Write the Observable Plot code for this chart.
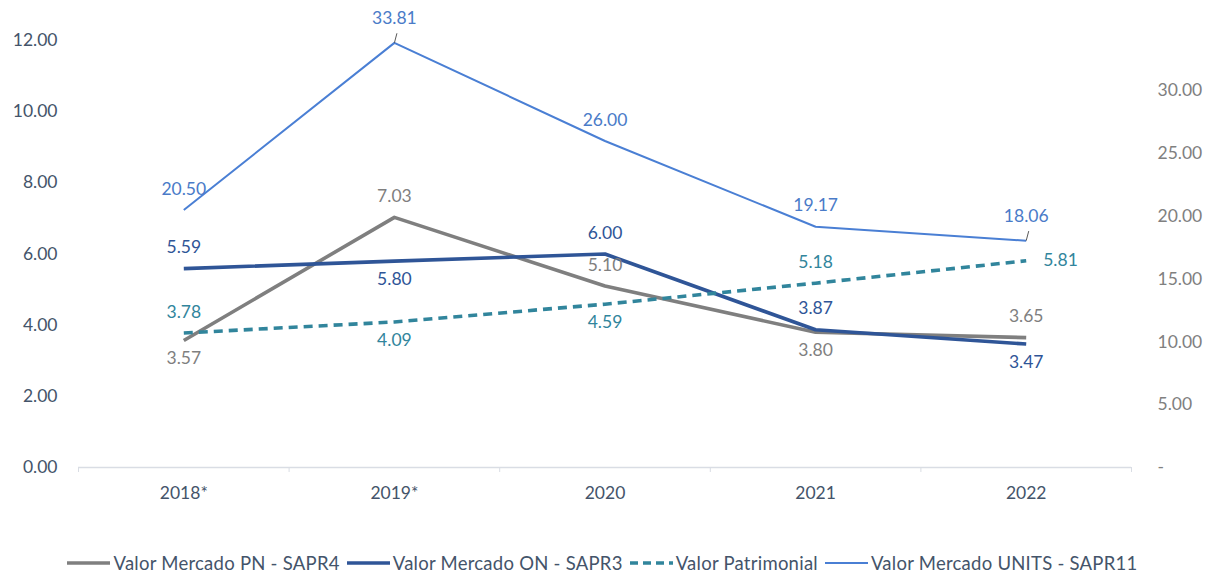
<!DOCTYPE html>
<html>
<head>
<meta charset="utf-8">
<script src="https://cdn.jsdelivr.net/npm/d3@7"></script>
<script src="https://cdn.jsdelivr.net/npm/@observablehq/plot@0.6"></script>
<style>
  html, body { margin: 0; padding: 0; background: #fff; }
  #chart { width: 1205px; height: 573px; position: relative; font-family: Lato, "Noto Sans", sans-serif; }
  #legend { display: flex; justify-content: center; align-items: center; gap: 7px; font-size: 18.5px; letter-spacing: 0.25px; color: #44546a; margin-top: 32px; }
  #legend .item { display: flex; align-items: center; gap: 3px; }
  #legend svg { display: block; }
</style>
</head>
<body>
<div id="chart"></div>
<script>
// ---- data ----
const years = ["2018*", "2019*", "2020", "2021", "2022"];
const pnSAPR4 = [3.57, 7.03, 5.10, 3.80, 3.65];
const onSAPR3 = [5.59, 5.80, 6.00, 3.87, 3.47];
const patrimonial = [3.78, 4.09, 4.59, 5.18, 5.81];
const unitsSAPR11 = [20.50, 33.81, 26.00, 19.17, 18.06];
const leftTicks = [0, 2, 4, 6, 8, 10, 12];
const rightTicks = [0, 5, 10, 15, 20, 25, 30];
const seriesNames = ["Valor Mercado PN - SAPR4", "Valor Mercado ON - SAPR3", "Valor Patrimonial", "Valor Mercado UNITS - SAPR11"];

// ---- config ----
const leftMax = 12, rightMax = 34;
const toLeft = v => v * leftMax / rightMax;
const series = [
  {name: seriesNames[0], values: pnSAPR4, axis: "left", color: "#7f7f7f", labelColor: "#7f7f7f", width: 3.6, dash: null,
   place: ["below", "above", "above", "below", "above"]},
  {name: seriesNames[1], values: onSAPR3, axis: "left", color: "#2f5597", labelColor: "#2f5597", width: 3.6, dash: null,
   place: ["above", "below", "above", "above", "below"]},
  {name: seriesNames[2], values: patrimonial, axis: "left", color: "#31859c", labelColor: "#31859c", width: 3.6, dash: "9,6",
   place: ["above", "below", "below", "above", "right"]},
  {name: seriesNames[3], values: unitsSAPR11, axis: "right", color: "#4a7fd4", labelColor: "#4a7bc8", width: 2, dash: null,
   place: ["above", "above", "above", "above", "above"]}
];
const rows = series.flatMap(s => s.values.map((v, i) => ({
  series: s.name, i, v, y: s.axis === "right" ? toLeft(v) : v, place: s.place[i], color: s.labelColor
})));

const dyFor = p => p === "above" ? -21 : p === "below" ? 18 : 0;
const leaderIdx = [1, 4]; // UNITS labels with leader lines
const isLead = r => r.series === seriesNames[3] && leaderIdx.includes(r.i);

const marks = [
  Plot.ruleY([0], {stroke: "#d9dde4", strokeWidth: 1.3}),
  Plot.axisX({ticks: d3.range(-0.5, years.length, 1), tickSize: 5, tickFormat: () => "", stroke: "#d9dde4", label: null}),
  Plot.axisX({ticks: d3.range(years.length), tickSize: 0, tickPadding: 19, tickFormat: i => years[i], fill: "#44546a", label: null}),
  Plot.axisY({ticks: leftTicks, tickSize: 0, tickPadding: 21, tickFormat: d => d.toFixed(2), fill: "#44546a", label: null}),
  Plot.axisY({anchor: "right", ticks: rightTicks.map(toLeft), tickSize: 0, tickPadding: 26, fill: "#808080", label: null,
    tickFormat: d => { const r = Math.round(d * rightMax / leftMax * 100) / 100; return r === 0 ? "-" : r.toFixed(2); }}),
  ...series.map(s => Plot.line(rows.filter(r => r.series === s.name), {
    x: "i", y: "y", stroke: s.color, strokeWidth: s.width, strokeDasharray: s.dash, strokeLinejoin: "round", strokeLinecap: "butt"
  })),
  Plot.link(rows.filter(isLead), {
    x1: "i", x2: d => d.i + 0.012, y1: "y", y2: d => d.y + 0.27, stroke: "#595959", strokeWidth: 1
  })
];

for (const p of ["above", "below", "right"]) {
  const sub = rows.filter(r => r.place === p);
  const lead = sub.filter(isLead);
  const rest = sub.filter(r => !isLead(r));
  marks.push(Plot.text(rest, {
    x: "i", y: "y", text: d => d.v.toFixed(2), fill: d => d.color,
    dy: dyFor(p), dx: p === "right" ? 17 : 0, textAnchor: p === "right" ? "start" : "middle", lineAnchor: "middle"
  }));
  if (lead.length) marks.push(Plot.text(lead, {
    x: "i", y: "y", text: d => d.v.toFixed(2), fill: d => d.color,
    dy: -24, textAnchor: "middle", lineAnchor: "middle"
  }));
}

const plot = Plot.plot({
  width: 1205,
  height: 520,
  marginTop: 40,
  marginBottom: 53,
  marginLeft: 78,
  marginRight: 74,
  x: {type: "linear", domain: [-0.5, years.length - 0.5], axis: null},
  y: {domain: [0, leftMax], axis: null},
  style: {fontFamily: "Lato, 'Noto Sans', sans-serif", fontSize: "17.5px", background: "#fff", overflow: "visible"},
  marks
});
const chart = document.getElementById("chart");
chart.appendChild(plot);

// legend
const legend = document.createElement("div");
legend.id = "legend";
for (const s of series) {
  const item = document.createElement("div");
  item.className = "item";
  const sw = d3.create("svg").attr("width", 43).attr("height", 10);
  sw.append("line").attr("x1", 0).attr("x2", 43).attr("y1", 5).attr("y2", 5)
    .attr("stroke", s.color).attr("stroke-width", s.width)
    .attr("stroke-dasharray", s.dash ? "8,5" : null);
  item.appendChild(sw.node());
  const t = document.createElement("span");
  t.textContent = s.name;
  item.appendChild(t);
  legend.appendChild(item);
}
chart.appendChild(legend);
</script>
</body>
</html>
